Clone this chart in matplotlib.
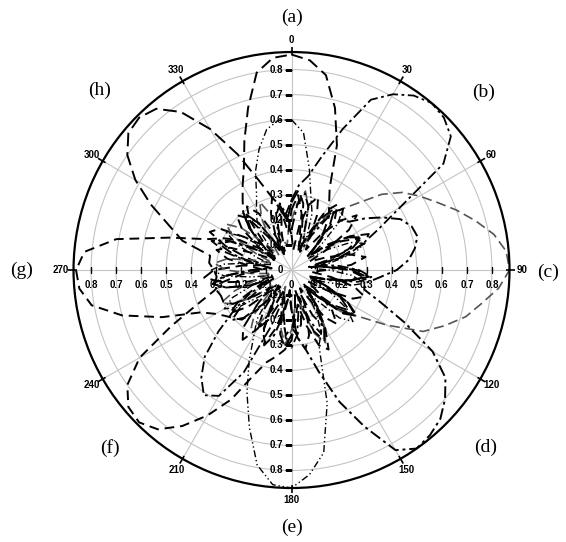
import numpy as np
import matplotlib.pyplot as plt

# beam patterns sampled every 5 degrees (0 = up, clockwise)
ANGLES_DEG = list(range(0, 360, 5))

PATTERN_A = [0.86, 0.84, 0.79, 0.67, 0.53, 0.36, 0.30, 0.26, 0.20,
             0.14, 0.10, 0.18, 0.27, 0.34, 0.31, 0.20, 0.10, 0.15,
             0.26, 0.31, 0.24, 0.14, 0.07, 0.14, 0.23, 0.28, 0.22,
             0.11, 0.08, 0.18, 0.26, 0.20, 0.10, 0.14, 0.22, 0.26,
             0.23, 0.26, 0.20, 0.11, 0.14, 0.22, 0.27, 0.19, 0.08,
             0.12, 0.23, 0.30, 0.24, 0.14, 0.08, 0.18, 0.28, 0.35,
             0.31, 0.20, 0.11, 0.18, 0.28, 0.36, 0.33, 0.23, 0.16,
             0.24, 0.30, 0.34, 0.39, 0.45, 0.55, 0.67, 0.80, 0.85]

PATTERN_B = [0.28, 0.34, 0.38, 0.47, 0.60, 0.75, 0.81, 0.85, 0.87,
             0.86, 0.83, 0.74, 0.50, 0.38, 0.30, 0.23, 0.12, 0.19,
             0.27, 0.32, 0.27, 0.16, 0.08, 0.16, 0.26, 0.31, 0.24,
             0.14, 0.07, 0.15, 0.24, 0.28, 0.22, 0.11, 0.16, 0.26,
             0.31, 0.27, 0.18, 0.11, 0.24, 0.45, 0.58, 0.61, 0.56,
             0.49, 0.38, 0.28, 0.20, 0.11, 0.18, 0.27, 0.32, 0.26,
             0.15, 0.08, 0.16, 0.27, 0.34, 0.28, 0.18, 0.10, 0.15,
             0.24, 0.30, 0.23, 0.12, 0.08, 0.16, 0.24, 0.22, 0.23]

PATTERN_C = [0.20, 0.27, 0.32, 0.26, 0.15, 0.11, 0.22, 0.28, 0.32,
             0.38, 0.47, 0.54, 0.59, 0.64, 0.70, 0.76, 0.82, 0.86,
             0.87, 0.83, 0.77, 0.72, 0.65, 0.58, 0.44, 0.32, 0.26,
             0.16, 0.10, 0.18, 0.27, 0.32, 0.27, 0.16, 0.08, 0.15,
             0.24, 0.30, 0.24, 0.14, 0.07, 0.14, 0.23, 0.28, 0.23,
             0.12, 0.10, 0.19, 0.27, 0.31, 0.24, 0.14, 0.08, 0.16,
             0.26, 0.31, 0.26, 0.15, 0.08, 0.16, 0.27, 0.32, 0.26,
             0.15, 0.08, 0.15, 0.24, 0.30, 0.23, 0.12, 0.10, 0.15]

PATTERN_D = [0.16, 0.26, 0.31, 0.26, 0.14, 0.08, 0.16, 0.27, 0.32,
             0.28, 0.30, 0.36, 0.42, 0.48, 0.51, 0.52, 0.50, 0.47,
             0.42, 0.35, 0.30, 0.30, 0.38, 0.50, 0.65, 0.75, 0.80,
             0.84, 0.86, 0.87, 0.83, 0.69, 0.56, 0.42, 0.32, 0.27,
             0.16, 0.10, 0.18, 0.27, 0.32, 0.26, 0.14, 0.08, 0.18,
             0.27, 0.31, 0.24, 0.14, 0.08, 0.18, 0.27, 0.32, 0.27,
             0.16, 0.08, 0.15, 0.24, 0.31, 0.27, 0.16, 0.08, 0.14,
             0.23, 0.28, 0.23, 0.12, 0.07, 0.14, 0.23, 0.27, 0.22]

PATTERN_E = [0.60, 0.55, 0.41, 0.30, 0.24, 0.14, 0.20, 0.28, 0.32,
             0.26, 0.15, 0.08, 0.16, 0.26, 0.31, 0.26, 0.15, 0.08,
             0.15, 0.24, 0.30, 0.24, 0.14, 0.08, 0.18, 0.27, 0.32,
             0.27, 0.16, 0.11, 0.20, 0.28, 0.32, 0.55, 0.74, 0.82,
             0.87, 0.86, 0.79, 0.65, 0.52, 0.40, 0.30, 0.24, 0.14,
             0.08, 0.16, 0.26, 0.31, 0.26, 0.15, 0.08, 0.16, 0.27,
             0.32, 0.27, 0.16, 0.08, 0.15, 0.24, 0.30, 0.23, 0.12,
             0.11, 0.18, 0.24, 0.28, 0.33, 0.42, 0.50, 0.57, 0.60]

PATTERN_F = [0.24, 0.30, 0.23, 0.12, 0.08, 0.16, 0.27, 0.32, 0.27,
             0.16, 0.08, 0.14, 0.23, 0.30, 0.24, 0.14, 0.07, 0.14,
             0.23, 0.28, 0.24, 0.14, 0.08, 0.16, 0.26, 0.31, 0.26,
             0.15, 0.10, 0.18, 0.27, 0.35, 0.32, 0.23, 0.14, 0.19,
             0.28, 0.32, 0.35, 0.38, 0.45, 0.57, 0.67, 0.76, 0.83,
             0.86, 0.85, 0.80, 0.70, 0.53, 0.40, 0.32, 0.28, 0.20,
             0.11, 0.16, 0.26, 0.31, 0.26, 0.15, 0.08, 0.16, 0.26,
             0.31, 0.27, 0.16, 0.08, 0.15, 0.24, 0.30, 0.24, 0.15]

PATTERN_G = [0.14, 0.08, 0.18, 0.27, 0.31, 0.24, 0.14, 0.10, 0.19,
             0.28, 0.34, 0.28, 0.16, 0.08, 0.15, 0.24, 0.30, 0.24,
             0.14, 0.08, 0.16, 0.26, 0.31, 0.27, 0.16, 0.08, 0.14,
             0.23, 0.28, 0.23, 0.12, 0.08, 0.18, 0.27, 0.32, 0.27,
             0.16, 0.08, 0.15, 0.24, 0.31, 0.27, 0.16, 0.11, 0.20,
             0.28, 0.30, 0.32, 0.35, 0.40, 0.55, 0.70, 0.81, 0.85,
             0.86, 0.83, 0.71, 0.50, 0.36, 0.30, 0.24, 0.14, 0.08,
             0.16, 0.26, 0.31, 0.26, 0.15, 0.08, 0.15, 0.24, 0.20]

PATTERN_H = [0.27, 0.32, 0.27, 0.16, 0.08, 0.15, 0.24, 0.30, 0.24,
             0.14, 0.08, 0.16, 0.26, 0.31, 0.26, 0.15, 0.08, 0.15,
             0.24, 0.30, 0.24, 0.14, 0.08, 0.16, 0.26, 0.32, 0.27,
             0.16, 0.10, 0.16, 0.26, 0.31, 0.26, 0.14, 0.08, 0.16,
             0.26, 0.31, 0.26, 0.15, 0.08, 0.16, 0.27, 0.34, 0.30,
             0.19, 0.11, 0.18, 0.27, 0.30, 0.30, 0.31, 0.31, 0.30,
             0.31, 0.33, 0.33, 0.45, 0.52, 0.62, 0.72, 0.80, 0.85,
             0.86, 0.84, 0.77, 0.65, 0.51, 0.38, 0.30, 0.26, 0.20]

R_TICKS = [0.1, 0.2, 0.3, 0.4, 0.5, 0.6, 0.7, 0.8]
THETA_TICKS = [0, 30, 60, 90, 120, 150, 180, 210, 240, 270, 300, 330]
PANEL_LABELS = ["(a)", "(b)", "(c)", "(d)", "(e)", "(f)", "(g)", "(h)"]
RMAX = 0.87

patterns = [PATTERN_A, PATTERN_B, PATTERN_C, PATTERN_D,
            PATTERN_E, PATTERN_F, PATTERN_G, PATTERN_H]
styles = [
    dict(color="black", lw=1.4, ls=(0, (6, 3))),
    dict(color="black", lw=1.3, ls=(0, (6, 2, 1.5, 2))),
    dict(color="#555555", lw=1.2, ls=(0, (6, 3))),
    dict(color="black", lw=1.4, ls=(0, (6, 2, 1.5, 2))),
    dict(color="black", lw=1.0, ls=(0, (5, 2, 1, 2, 1, 2))),
    dict(color="black", lw=1.4, ls=(0, (5, 3))),
    dict(color="black", lw=1.4, ls=(0, (5, 3))),
    dict(color="black", lw=1.4, ls=(0, (7, 3))),
]

fig = plt.figure(figsize=(5.66, 5.42), dpi=100)
ax = fig.add_axes([0.1299, 0.0996, 0.7703, 0.8044], projection="polar")
ax.set_theta_zero_location("N")
ax.set_theta_direction(-1)

theta = np.deg2rad(ANGLES_DEG + [360])
for vals, st in zip(patterns, styles):
    ax.plot(theta, vals + [vals[0]], color=st["color"], lw=st["lw"],
            linestyle=st["ls"])

ax.set_rlim(0, RMAX)
ax.set_rticks(R_TICKS)
ax.set_yticklabels([])
ax.set_xticks(np.deg2rad(THETA_TICKS))
ax.set_xticklabels([])
ax.grid(True, color="#c4c4c4", lw=0.8)
ax.spines["polar"].set_linewidth(1.6)

tick_font = dict(fontsize=7, fontweight="bold", family="Liberation Sans")

# short radial ticks where the spokes meet the outer circle
ax.vlines(np.deg2rad(THETA_TICKS), RMAX * 0.985, RMAX * 1.025,
          color="black", lw=1.2, clip_on=False)

# angle labels outside the circle
for t in THETA_TICKS:
    ax.text(np.deg2rad(t), RMAX * 1.057, str(t), ha="center", va="center",
            clip_on=False, **tick_font)

# radial labels along the vertical axis (left of the spoke)
for t in (0, np.pi):
    ax.plot([t] * len(R_TICKS), R_TICKS, linestyle="none", marker=0,
            markersize=5, color="black", mew=1)
    for r in R_TICKS:
        ax.annotate(f"{r:.1f}", xy=(t, r), xytext=(-6, 0),
                    textcoords="offset points", ha="right", va="center",
                    **tick_font)
ax.annotate("0", xy=(0, 0), xytext=(-6, 0), textcoords="offset points",
            ha="right", va="center", **tick_font)

# radial labels along the horizontal axis (below the spoke)
for t in (np.pi / 2, 3 * np.pi / 2):
    ax.plot([t] * len(R_TICKS), R_TICKS, linestyle="none", marker="|",
            markersize=5, color="black", mew=1)
    for r in R_TICKS:
        ax.annotate(f"{r:.1f}", xy=(t, r), xytext=(0, -11),
                    textcoords="offset points", ha="center", va="center",
                    **tick_font)
ax.annotate("0", xy=(0, 0), xytext=(0, -11), textcoords="offset points",
            ha="center", va="center", **tick_font)

# panel letters
letter_pos = [(292, 17), (484, 92), (548, 272), (486, 447),
              (292, 527), (110, 448), (22, 270), (100, 90)]
for lab, (px, py) in zip(PANEL_LABELS, letter_pos):
    fig.text(px / 566, 1 - py / 542, lab, ha="center", va="center",
             fontsize=14, family="Liberation Serif")

fig.savefig("out.png", dpi=100)
